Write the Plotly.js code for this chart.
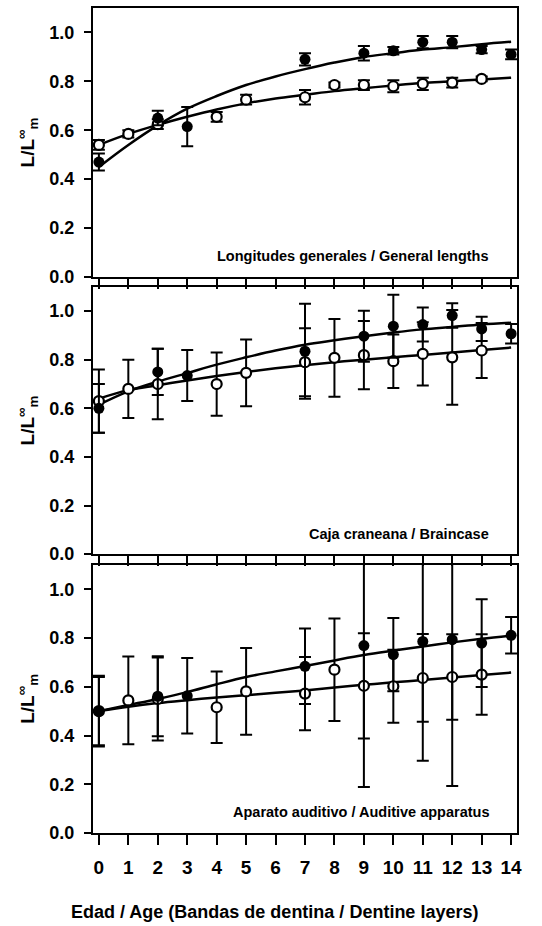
<!DOCTYPE html>
<html>
<head>
<meta charset="utf-8">
<script src="https://cdn.plot.ly/plotly-3.0.1.min.js"></script>
<style>html,body{margin:0;padding:0;background:#fff;}#chart{width:542px;height:926px;}</style>
</head>
<body>
<div id="chart"></div>
<script>
// ---- Data ----
const ages = [0,1,2,3,4,5,6,7,8,9,10,11,12,13,14];
const tickLabels = ["0","1","2","3","4","5","6","7","8","9","10","11","12","13","14"];
const panelNames = ["Longitudes generales / General lengths", "Caja craneana / Braincase", "Aparato auditivo / Auditive apparatus"];
const xTitle = "Edad / Age (Bandas de dentina / Dentine layers)";
const yTitle = "L/L<sup>∞</sup><sub>m</sub>";

// Panel 1: General lengths
const p1FilledX = [0,2,3,7,9,10,11,12,13,14];
const p1FilledY = [0.47,0.65,0.615,0.89,0.915,0.925,0.96,0.96,0.93,0.91];
const p1FilledErr = [0.035,0.03,0.08,0.025,0.03,0.015,0.025,0.025,0.015,0.02];
const p1OpenX = [0,1,2,4,5,7,8,9,10,11,12,13];
const p1OpenY = [0.54,0.585,0.625,0.655,0.725,0.735,0.785,0.785,0.78,0.79,0.795,0.81];
const p1OpenErr = [0.02,0.015,0.02,0.02,0.02,0.03,0.01,0.02,0.025,0.025,0.02,0.01];
const p1FilledFit = [0.45,0.54,0.62,0.688,0.74,0.785,0.82,0.85,0.877,0.90,0.915,0.93,0.94,0.952,0.962];
const p1OpenFit = [0.54,0.585,0.622,0.655,0.685,0.71,0.73,0.745,0.76,0.772,0.783,0.793,0.80,0.808,0.815];

// Panel 2: Braincase
const p2FilledX = [0,2,3,7,9,10,11,12,13,14];
const p2FilledY = [0.60,0.75,0.735,0.835,0.897,0.938,0.945,0.982,0.927,0.907];
const p2FilledErr = [0.10,0.095,0.105,0.195,0.105,0.13,0.07,0.05,0.05,0.04];
const p2OpenX = [0,1,2,4,5,7,8,9,10,11,12,13];
const p2OpenY = [0.63,0.68,0.70,0.70,0.746,0.79,0.808,0.819,0.794,0.824,0.81,0.838];
const p2OpenErr = [0.13,0.12,0.145,0.13,0.137,0.14,0.16,0.14,0.11,0.13,0.195,0.113];
const p2FilledFit = [0.615,0.67,0.71,0.745,0.78,0.81,0.838,0.862,0.88,0.897,0.912,0.925,0.935,0.945,0.952];
const p2OpenFit = [0.64,0.675,0.695,0.715,0.733,0.75,0.765,0.778,0.79,0.80,0.81,0.82,0.83,0.84,0.85];

// Panel 3: Auditive apparatus
const p3FilledX = [0,2,3,7,9,10,11,12,13,14];
const p3FilledY = [0.50,0.561,0.563,0.684,0.769,0.732,0.786,0.793,0.779,0.811];
const p3FilledErr = [0.14,0.164,0.155,0.155,0.58,0.15,0.49,0.6,0.18,0.075];
const p3OpenX = [0,1,2,4,5,7,8,9,10,11,12,13];
const p3OpenY = [0.50,0.544,0.55,0.516,0.581,0.572,0.67,0.604,0.602,0.636,0.64,0.65];
const p3OpenErr = [0.145,0.18,0.17,0.147,0.178,0.15,0.21,0.216,0.15,0.18,0.175,0.165];
const p3FilledFit = [0.50,0.525,0.55,0.578,0.61,0.64,0.663,0.685,0.708,0.73,0.748,0.765,0.782,0.797,0.81];
const p3OpenFit = [0.50,0.518,0.533,0.545,0.556,0.565,0.575,0.585,0.597,0.608,0.618,0.628,0.638,0.648,0.658];

// ---- Build ----
const FONT = "Arial, 'Liberation Sans', sans-serif";
const panels = [
  {fx:p1FilledX, fy:p1FilledY, fe:p1FilledErr, ox:p1OpenX, oy:p1OpenY, oe:p1OpenErr, ff:p1FilledFit, of:p1OpenFit},
  {fx:p2FilledX, fy:p2FilledY, fe:p2FilledErr, ox:p2OpenX, oy:p2OpenY, oe:p2OpenErr, ff:p2FilledFit, of:p2OpenFit},
  {fx:p3FilledX, fy:p3FilledY, fe:p3FilledErr, ox:p3OpenX, oy:p3OpenY, oe:p3OpenErr, ff:p3FilledFit, of:p3OpenFit}
];
const traces = [];
panels.forEach((p, i) => {
  const xa = i === 0 ? 'x' : 'x' + (i + 1);
  const ya = i === 0 ? 'y' : 'y' + (i + 1);
  traces.push({x: ages, y: p.ff, xaxis: xa, yaxis: ya, mode: 'lines', line: {color: '#000', width: 2.5, shape: 'spline'}, hoverinfo: 'skip'});
  traces.push({x: ages, y: p.of, xaxis: xa, yaxis: ya, mode: 'lines', line: {color: '#000', width: 2.5, shape: 'spline'}, hoverinfo: 'skip'});
  traces.push({x: p.ox, y: p.oy, xaxis: xa, yaxis: ya, mode: 'markers',
    marker: {symbol: 'circle', size: 10, color: '#fff', line: {color: '#000', width: 2.2}},
    error_y: {type: 'data', array: p.oe, visible: true, color: '#000', thickness: 2, width: 6}, cliponaxis: true});
  traces.push({x: p.fx, y: p.fy, xaxis: xa, yaxis: ya, mode: 'markers',
    marker: {symbol: 'circle', size: 11, color: '#000', line: {color: '#000', width: 0}},
    error_y: {type: 'data', array: p.fe, visible: true, color: '#000', thickness: 2, width: 6}, cliponaxis: true});
});

const domains = [[0.674, 1.0], [0.338, 0.662], [0.0, 0.325]];
const layout = {
  width: 542, height: 926,
  margin: {l: 93, r: 25, t: 8, b: 93},
  paper_bgcolor: '#fff', plot_bgcolor: '#fff',
  showlegend: false,
  font: {family: FONT, color: '#000', size: 18, weight: 'bold'},
  annotations: [{
    xref: 'paper', yref: 'paper', x: 0.429, y: -0.096, xanchor: 'center', yanchor: 'middle',
    text: xTitle, showarrow: false, font: {family: FONT, size: 18, color: '#000', weight: 'bold'}
  }]
};
for (let i = 0; i < 3; i++) {
  const sx = i === 0 ? '' : String(i + 1);
  layout['xaxis' + sx] = {
    anchor: 'y' + sx, domain: [0, 1], range: [-0.2, 14.2],
    tickvals: ages, ticktext: tickLabels, showticklabels: i === 2,
    ticks: 'outside', ticklen: 10, tickwidth: 2, tickcolor: '#000',
    showline: true, linewidth: 2, linecolor: '#000', mirror: true,
    showgrid: false, zeroline: false, ticklabelstandoff: 6,
    tickfont: {family: FONT, size: 19, color: '#000', weight: 'bold'}
  };
  layout['yaxis' + sx] = {
    anchor: 'x' + sx, domain: domains[i], range: [0, 1.1],
    tickvals: [0, 0.2, 0.4, 0.6, 0.8, 1.0], tickformat: '.1f',
    ticks: 'outside', ticklen: 7, tickwidth: 2, tickcolor: '#000',
    showline: true, linewidth: 2, linecolor: '#000', mirror: true,
    showgrid: false, zeroline: false, ticklabelstandoff: 6,
    tickfont: {family: FONT, size: 18, color: '#000', weight: 'bold'},
    title: {text: yTitle, font: {family: FONT, size: 19, color: '#000', weight: 'bold'}, standoff: 10}
  };
  layout.annotations.push({
    xref: 'x' + sx, yref: 'y' + sx, x: 13.32, y: 0.085, xanchor: 'right', yanchor: 'middle',
    text: panelNames[i], showarrow: false, font: {family: FONT, size: 14.5, color: '#000', weight: 'bold'}
  });
}
Plotly.newPlot('chart', traces, layout, {displayModeBar: false, staticPlot: true});
</script>
</body>
</html>
